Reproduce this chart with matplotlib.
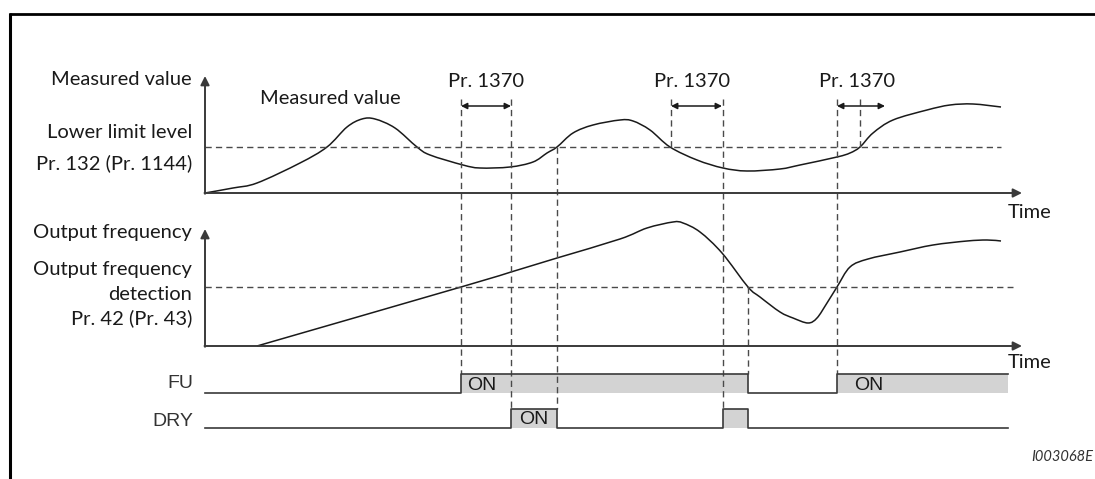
import matplotlib
matplotlib.use("Agg")
import matplotlib.pyplot as plt
from matplotlib.path import Path
from matplotlib.patches import PathPatch
import numpy as np

# Measured value curve (time position, level above its time axis)
meas_t   = [205, 233, 257, 300, 327, 347, 362, 375, 395, 417, 430, 463, 480, 510,
            533, 547, 557, 573, 593, 620, 633, 650, 670, 697, 723, 747, 780, 800, 837, 850,
            860, 873, 893, 927, 950, 973, 1001]
meas_lvl = [0, 5, 10, 30, 46, 66, 74, 74, 65, 46, 38, 28, 25, 26,
            31, 40, 46, 60, 68, 73, 72, 63, 46, 33, 25, 22, 24, 28, 36, 40,
            46, 60, 73, 83, 88, 89, 86]

# Output frequency curve
freq_t   = [257, 461, 511, 557, 620, 647, 673, 683, 700, 722, 748, 760, 780, 793, 808, 817,
            827, 837, 850, 868, 900, 933, 967, 987, 1001]
freq_lvl = [0, 59, 74, 88, 107, 118, 124, 123, 114, 93, 59, 49, 34, 28, 23, 28,
            43, 59, 79, 87, 94, 101, 105, 106, 105]

# Signal edges and states
fu_edges  = [205, 461, 748, 837, 1008]
fu_state  = [0, 1, 0, 1]
dry_edges = [205, 511, 557, 723, 748, 1008]
dry_state = [0, 1, 0, 1, 0]

# Pr. 1370 delay windows
delay_start = [461, 671, 837]
delay_end   = [511, 722, 885]
delay_label = [486, 692, 857]

# Layout (pixels)
W, H = 1095, 479
X0, XEND = 205, 1022
BASE1, TOP1, LIM1 = 193, 76, 147
BASE2, TOP2, LIM2 = 346, 229, 287
FU_LO, FU_HI = 393, 374
DRY_LO, DRY_HI = 428, 409

MYR = ['Lato', 'DejaVu Sans']
ARI = ['Liberation Sans', 'DejaVu Sans']
INK = '#1a1a1a'
AXC = '#3a3a3a'
DASHC = '#4a4a4a'
GRAY = '#d3d3d3'
FS = 14.5

fig = plt.figure(figsize=(W / 100, H / 100), dpi=100)
ax = fig.add_axes([0, 0, 1, 1])
ax.set_xlim(0, W)
ax.set_ylim(H, 0)
ax.axis('off')

# outer frame (top and left)
ax.plot([9, W], [13.5, 13.5], color='black', lw=2.0, solid_capstyle='butt')
ax.plot([10, 10], [12.5, H], color='black', lw=2.2, solid_capstyle='butt')

def dashed(x0, y0, x1, y1):
    ax.plot([x0, x1], [y0, y1], color=DASHC, lw=1.0, dashes=(4.5, 3.0))

def axis_arrows(base, top):
    ax.annotate('', xy=(X0, top), xytext=(X0, base + 0.8),
                arrowprops=dict(arrowstyle='-|>', lw=1.4, color=AXC,
                                mutation_scale=13, shrinkA=0, shrinkB=0))
    ax.annotate('', xy=(XEND, base), xytext=(X0 - 0.5, base),
                arrowprops=dict(arrowstyle='-|>', lw=1.4, color=AXC,
                                mutation_scale=13, shrinkA=0, shrinkB=0))

def smooth_curve(xs, ys):
    # catmull-rom through the read points, drawn as bezier segments
    p = np.column_stack([xs, ys]).astype(float)
    pts = [p[0]]
    codes = [Path.MOVETO]
    n = len(p)
    for i in range(n - 1):
        p0 = p[max(i - 1, 0)]
        p1 = p[i]
        p2 = p[i + 1]
        p3 = p[min(i + 2, n - 1)]
        c1 = p1 + (p2 - p0) / 6.0
        c2 = p2 - (p3 - p1) / 6.0
        pts += [c1, c2, p2]
        codes += [Path.CURVE4] * 3
    ax.add_patch(PathPatch(Path(pts, codes), fill=False, edgecolor=INK, lw=1.1))

# threshold lines
dashed(X0, LIM1, 1001, LIM1)
dashed(X0, LIM2, 1013, LIM2)

# vertical dashed guides
dashed(461, 99, 461, FU_HI)
dashed(511, 99, 511, DRY_HI)
dashed(557, LIM1, 557, DRY_HI)
dashed(671, 99, 671, LIM1)
dashed(722.5, 99, 722.5, DRY_HI)
dashed(748, LIM2, 748, FU_HI)
dashed(837, 99, 837, FU_HI)
dashed(860, 99, 860, LIM1)

axis_arrows(BASE1, TOP1)
axis_arrows(BASE2, TOP2)

# curves
smooth_curve(meas_t, BASE1 - np.array(meas_lvl))
smooth_curve(freq_t, BASE2 - np.array(freq_lvl))

# delay arrows
for s, e, lx in zip(delay_start, delay_end, delay_label):
    ax.annotate('', xy=(e, 106), xytext=(s, 106),
                arrowprops=dict(arrowstyle='<|-|>', lw=1.1, color=INK,
                                mutation_scale=9, shrinkA=0, shrinkB=0))
    ax.text(lx, 81, 'Pr. 1370', family=MYR, fontsize=FS, color=INK,
            ha='center', va='center')

# digital signals
def signal(edges, state, lo, hi, on_pos):
    xs, ys = [], []
    for i, st in enumerate(state):
        y = hi if st else lo
        xs += [edges[i], edges[i + 1]]
        ys += [y, y]
        if st:
            ax.fill_between([edges[i], edges[i + 1]], lo, hi, color=GRAY, lw=0)
    ax.plot(xs, ys, color=AXC, lw=1.2)
    for x in on_pos:
        ax.text(x, (lo + hi) / 2 + 1.5, 'ON', family=ARI, fontsize=14,
                color=INK, ha='center', va='center')

signal(fu_edges, fu_state, FU_LO, FU_HI, [482, 869])
signal(dry_edges, dry_state, DRY_LO, DRY_HI, [534])

# labels
kw = dict(family=MYR, fontsize=FS, color=INK, va='center')
ax.text(192, 79, 'Measured value', ha='right', **kw)
ax.text(260, 98, 'Measured value', ha='left', **kw)
ax.text(192, 132, 'Lower limit level', ha='right', **kw)
ax.text(192, 163, 'Pr. 132 (Pr. 1144)', ha='right', **kw)
ax.text(1008, 213, 'Time', ha='left', **kw)
ax.text(1008, 363, 'Time', ha='left', **kw)
ax.text(192, 232, 'Output frequency', ha='right', **kw)
ax.text(192, 270, 'Output frequency', ha='right', **kw)
ax.text(192, 294, 'detection', ha='right', **kw)
ax.text(192, 318, 'Pr. 42 (Pr. 43)', ha='right', **kw)

ax.text(193, 383, 'FU', family=ARI, fontsize=14, color='#333333', ha='right', va='center')
ax.text(193, 421, 'DRY', family=ARI, fontsize=14, color='#333333', ha='right', va='center')

ax.text(1093, 457, 'I003068E', family=MYR, fontsize=10.5, style='italic',
        color='#333333', ha='right', va='center')

fig.savefig('out.png', dpi=100)
